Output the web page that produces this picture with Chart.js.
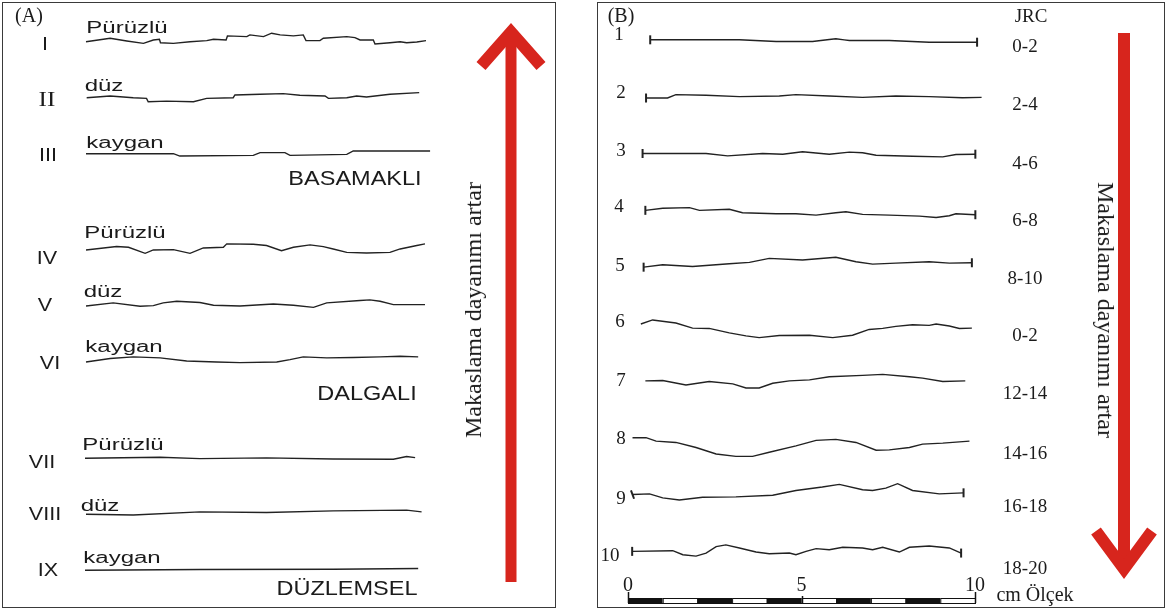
<!DOCTYPE html>
<html>
<head>
<meta charset="utf-8">
<script src="https://cdn.jsdelivr.net/npm/chart.js@4/dist/chart.umd.min.js"></script>
<style>
  html, body { margin: 0; padding: 0; background: #fff; }
  body { width: 1166px; height: 610px; position: relative; overflow: hidden; color: #1b1b1b; }
  .panel { position: absolute; border: 1.5px solid #3a3a3a; box-sizing: border-box; }
  #panelA { left: 2px; top: 2px; width: 554px; height: 606px; }
  #panelB { left: 597px; top: 2px; width: 568px; height: 606px; }
  canvas { position: absolute; }
  .t { position: absolute; white-space: nowrap; line-height: 1; }
  .sans { font-family: "Liberation Sans", Arial, sans-serif; }
  .serif { font-family: "Liberation Serif", "Times New Roman", serif; }
</style>
</head>
<body>
<div class="panel" id="panelA"></div>
<div class="panel" id="panelB"></div>
<canvas id="chartA" width="552" height="604" style="left:3px;top:3px"></canvas>
<canvas id="chartB" width="565" height="604" style="left:598px;top:3px"></canvas>
<script>
// ---------------------------------------------------------------------------
// Profiles: [x in cm along the joint, height in mm]
// ---------------------------------------------------------------------------

// (A) basamakli / dalgali / duzlemsel, each purüzlü / düz / kaygan
const profI    = [[0,0],[0.51,0.7],[0.71,1.0],[1.20,0.2],[1.69,-0.5],[1.98,0.5],[2.16,0.7],[2.19,-0.3],[2.57,-0.5],[3.06,0],[3.55,0.3],[3.75,0.7],[4.12,0.5],[4.16,1.7],[4.73,1.5],[4.82,2.0],[5.22,1.5],[5.46,2.5],[5.71,2.0],[6.10,1.7],[6.39,2.0],[6.47,0.3],[6.88,0.3],[6.98,1.0],[7.67,1.5],[7.91,1.2],[8.06,0.5],[8.45,0.5],[8.50,-0.7],[8.94,-0.3],[9.24,0],[9.43,-0.3],[9.73,-0.1],[10.0,0.3]];
const profII   = [[0.02,0],[0.71,0.5],[1.39,0],[1.78,-0.2],[1.83,-1.2],[2.37,-1.0],[3.16,-1.2],[3.55,-0.2],[4.33,0],[4.38,0.8],[5.12,1.0],[5.80,1.2],[6.29,0.7],[7.03,0.5],[7.13,-0.2],[7.67,0],[7.96,0.5],[8.25,0.2],[8.94,1.0],[9.80,1.5]];
const profIII  = [[0,0],[2.57,0],[2.76,-0.7],[4.92,-0.5],[5.12,0.3],[5.85,0.3],[6.0,-0.5],[7.67,-0.2],[7.86,0.8],[10.12,0.8]];
const profIV   = [[0,0],[0.90,1.0],[1.25,0.8],[1.74,-1.0],[1.98,0],[2.57,0.1],[3.06,-1.0],[3.45,0.6],[4.04,0.8],[4.14,1.8],[4.92,1.7],[5.31,1.3],[5.75,-0.2],[6.10,0.8],[6.59,1.5],[6.98,1.0],[7.27,0.3],[7.67,-0.7],[8.25,-0.9],[8.94,-0.7],[9.24,0.3],[9.73,1.3],[9.97,1.8]];
const profV    = [[0,0],[0.80,0.9],[1.59,-0.1],[1.98,0.1],[2.27,0.9],[2.67,1.4],[3.35,1.0],[3.75,0.2],[4.53,0],[5.51,0.6],[6.10,0.2],[6.69,-0.4],[7.08,0.9],[8.06,1.6],[8.35,1.8],[8.65,1.4],[9.04,0.4],[9.97,0.4]];
const profVI   = [[0,0],[0.71,1.0],[1.39,1.5],[2.18,1.2],[2.96,0.3],[3.84,0],[4.53,-0.2],[5.61,0],[6.0,0.7],[6.39,1.5],[7.08,1.2],[7.86,1.3],[8.65,1.5],[9.24,1.7],[9.77,1.5]];
const profVII  = [[-0.03,0],[2.18,0.3],[3.35,-0.1],[5.31,0.1],[7.27,-0.2],[9.04,-0.3],[9.43,0.5],[9.68,0.2]];
const profVIII = [[0,0],[1.39,-0.2],[3.35,0.7],[5.31,0.5],[7.27,1.0],[9.43,1.2],[9.87,0.7]];
const profIX   = [[-0.03,0],[3.35,0.2],[7.27,0.3],[9.77,0.5]];

// (B) Barton JRC standart profilleri 1..10
const prof1  = [[0.64,0],[3.21,0],[4.27,-0.5],[5.32,-0.5],[5.80,0.1],[5.99,0.3],[6.23,0],[6.38,-0.2],[7.53,-0.2],[8.68,-0.7],[10.06,-0.7]];
const prof2  = [[0.52,-0.4],[1.14,-0.4],[1.38,0.6],[2.25,0.4],[3.21,0],[4.36,0.2],[4.84,0.6],[5.80,0.2],[6.76,-0.2],[7.72,0.2],[8.68,0],[9.64,-0.3],[10.19,-0.2]];
const prof3  = [[0.42,0],[2.25,0],[2.87,-0.7],[3.88,0],[4.46,-0.2],[5.03,0.5],[5.80,-0.2],[6.38,0.4],[6.76,0.2],[7.15,-0.5],[8.20,-0.8],[9.07,-1.0],[9.45,-0.3],[10.01,-0.2]];
const prof4  = [[0.50,0],[1.00,0.6],[1.77,0.8],[2.06,0],[2.92,0.3],[3.30,-0.7],[4.27,-1.0],[4.84,-1.0],[5.42,-1.4],[5.99,-0.7],[6.28,-0.4],[6.76,-1.2],[7.53,-1.4],[8.40,-1.7],[8.88,-2.1],[9.26,-1.6],[9.45,-1.0],[10.01,-1.3]];
const prof5  = [[0.45,0],[1.00,0.7],[1.86,0.2],[2.92,1.0],[3.50,1.4],[4.07,2.6],[5.03,2.1],[5.99,2.9],[6.57,1.6],[7.05,0.9],[7.72,1.2],[8.68,1.6],[9.26,1.2],[9.91,1.3]];
const prof6  = [[0.37,0],[0.71,1.2],[1.38,0.3],[1.86,-1.2],[2.34,-1.3],[2.92,-2.6],[3.40,-3.5],[3.78,-4.0],[4.36,-3.4],[5.23,-3.3],[5.90,-4.0],[6.47,-3.3],[6.95,-1.6],[7.34,-1.3],[7.72,-0.7],[8.20,-0.2],[8.68,-0.4],[8.88,0],[9.26,-0.6],[9.55,-1.3],[9.91,-1.2]];
const prof7  = [[0.50,0],[1.00,0.1],[1.67,-1.2],[2.34,-0.2],[3.02,-0.9],[3.40,-2.1],[3.78,-2.1],[4.17,-0.7],[4.65,0],[5.23,0.3],[5.80,1.2],[6.76,1.6],[7.34,1.9],[8.11,1.2],[8.49,0.8],[9.07,-0.2],[9.72,0]];
const prof8  = [[0.13,0],[0.52,0],[0.81,-1.0],[1.38,-1.4],[1.96,-2.9],[2.54,-4.8],[3.11,-5.5],[3.59,-5.5],[4.07,-4.3],[4.84,-2.4],[5.42,-0.8],[5.99,-0.5],[6.57,-1.4],[7.15,-3.7],[7.53,-3.6],[8.11,-2.9],[8.49,-1.9],[9.07,-1.6],[9.84,-1.0]];
const prof9  = [[0.13,0],[0.62,0.2],[1.00,-1.0],[1.48,-1.6],[2.15,-0.8],[3.11,-0.7],[4.17,-0.2],[4.84,1.2],[5.60,2.2],[6.09,3.0],[6.76,1.4],[7.05,1.2],[7.43,1.9],[7.77,3.2],[8.20,1.2],[8.97,0.2],[9.67,0.5]];
const prof10 = [[0.12,0],[1.29,0.2],[1.58,-1.0],[1.96,-1.4],[2.25,-0.5],[2.54,1.4],[2.82,1.9],[3.21,1.0],[3.69,-0.2],[4.07,-0.7],[4.65,-0.5],[4.84,-1.0],[5.13,0],[5.42,0.8],[5.80,0.5],[6.19,1.2],[6.76,1.0],[7.05,0.5],[7.34,1.2],[7.82,-0.2],[8.11,1.2],[8.68,1.6],[9.26,1.0],[9.60,-0.5]];

// Etiketler
const romanA   = ['I', 'II', 'III', 'IV', 'V', 'VI', 'VII', 'VIII', 'IX'];
const surfaceA = ['Pürüzlü', 'düz', 'kaygan'];
const groupsA  = ['BASAMAKLI', 'DALGALI', 'DÜZLEMSEL'];
const numbersB = ['1', '2', '3', '4', '5', '6', '7', '8', '9', '10'];
const jrcB     = ['0-2', '2-4', '4-6', '6-8', '8-10', '0-2', '12-14', '14-16', '16-18', '18-20'];
const capsB    = [true, true, true, true, true, false, false, false, true, true];
const scaleCm  = [0, 1, 2, 3, 4, 5, 6, 7, 8, 9, 10];
const scaleTicks = [0, 5, 10];

// ---------------------------------------------------------------------------
// Layout (mm units of the y axes)
// ---------------------------------------------------------------------------
const ROW_A = 16.47, GROUP_A = 61.26, TOP_A = 11.38, SPAN_A = 177.65;
const ROW_B = 16.74, TOP_B = 8.93, SPAN_B = 174.06;
const INK = '#222222';
const RED = '#d7251d';

function profileDataset(points, offset, caps, capRot) {
    var n = points.length;
    return {
        data: points.map(function (p) { return { x: p[0], y: p[1] - offset }; }),
        borderColor: INK,
        borderWidth: 1.4,
        tension: 0,
        fill: false,
        clip: false,
        pointStyle: 'line',
        rotation: function (c) { return (c.dataIndex === 0 && capRot) ? capRot : 90; },
        pointRadius: function (c) {
            return caps && (c.dataIndex === 0 || c.dataIndex === n - 1) ? 4.5 : 0;
        },
        pointBorderColor: INK,
        pointBackgroundColor: INK,
        pointBorderWidth: 2
    };
}

// kalin kirmizi ok
var redArrow = {
    id: 'redArrow',
    afterDraw: function (chart, args, o) {
        var ctx = chart.ctx;
        ctx.save();
        ctx.strokeStyle = RED;
        ctx.lineCap = 'butt';
        ctx.lineWidth = o.shaft;
        ctx.beginPath();
        ctx.moveTo(o.x, o.tail);
        ctx.lineTo(o.x, o.vertex);
        ctx.stroke();
        ctx.lineWidth = o.wing;
        ctx.lineJoin = 'miter';
        ctx.miterLimit = 10;
        ctx.beginPath();
        ctx.moveTo(o.x - o.spread, o.wingY);
        ctx.lineTo(o.x, o.vertex);
        ctx.lineTo(o.x + o.spread, o.wingY);
        ctx.stroke();
        ctx.restore();
    }
};

// olcek cubugu (0-10 cm), x ekseninden
var scaleBar = {
    id: 'scaleBar',
    afterDraw: function (chart, args, o) {
        if (!o.show) return;
        var ctx = chart.ctx, xs = chart.scales.x;
        ctx.save();
        ctx.lineWidth = 1;
        ctx.strokeStyle = '#111';
        for (var i = 0; i < scaleCm.length - 1; i++) {
            var a = xs.getPixelForValue(scaleCm[i]);
            var b = xs.getPixelForValue(scaleCm[i + 1]);
            ctx.fillStyle = i % 2 === 0 ? '#111' : '#fff';
            ctx.fillRect(a, o.y, b - a, o.h);
            ctx.strokeRect(a + 0.5, o.y + 0.5, b - a, o.h);
        }
        ctx.lineWidth = 1.5;
        scaleTicks.forEach(function (v) {
            var px = Math.round(xs.getPixelForValue(v)) + 0.5;
            ctx.beginPath();
            ctx.moveTo(px, o.y - (v === 5 ? 2 : 6));
            ctx.lineTo(px, o.y + o.h);
            ctx.stroke();
        });
        ctx.restore();
    }
};

function makeChart(id, datasets, xMin, xMax, yMin, yMax, padding, arrow, bar) {
    return new Chart(document.getElementById(id), {
        type: 'line',
        data: { datasets: datasets },
        options: {
            responsive: false,
            animation: false,
            events: [],
            layout: { padding: padding },
            scales: {
                x: { type: 'linear', display: false, min: xMin, max: xMax },
                y: { type: 'linear', display: false, min: yMin, max: yMax }
            },
            plugins: {
                legend: { display: false },
                tooltip: { enabled: false },
                redArrow: arrow,
                scaleBar: bar
            }
        },
        plugins: [redArrow, scaleBar]
    });
}

// ---------------------------------------------------------------------------
// Panel A
// ---------------------------------------------------------------------------
var profilesA = [profI, profII, profIII, profIV, profV, profVI, profVII, profVIII, profIX];
var dsA = profilesA.map(function (p, i) {
    var g = Math.floor(i / 3), r = i % 3;
    return profileDataset(p, g * GROUP_A + r * ROW_A, false);
});
makeChart('chartA', dsA, 0, 10, TOP_A - SPAN_A, TOP_A,
    { left: 83, right: 129, top: 0, bottom: 0 },
    { x: 508, tail: 579, vertex: 29, wingY: 63, spread: 30, shaft: 11, wing: 12 },
    { show: false });

// ---------------------------------------------------------------------------
// Panel B
// ---------------------------------------------------------------------------
var profilesB = [prof1, prof2, prof3, prof4, prof5, prof6, prof7, prof8, prof9, prof10];
var dsB = profilesB.map(function (p, i) {
    return profileDataset(p, i * ROW_B, capsB[i], i === 8 ? 70 : 0);
});
var chartB = makeChart('chartB', dsB, 0, 10, TOP_B - SPAN_B, TOP_B,
    { left: 30, right: 188, top: 0, bottom: 0 },
    { x: 526, tail: 30, vertex: 566, wingY: 528, spread: 28, shaft: 12, wing: 12 },
    { show: true, y: 595, h: 5 });

// ---------------------------------------------------------------------------
// Texts
// ---------------------------------------------------------------------------
function addText(txt, cx, cy, cls, size, sx, rot) {
    var d = document.createElement('div');
    d.className = 't ' + cls;
    d.textContent = txt;
    d.style.left = cx + 'px';
    d.style.top = cy + 'px';
    d.style.fontSize = size + 'px';
    var tr = 'translate(-50%,-50%)';
    if (rot) tr += ' rotate(' + rot + 'deg)';
    if (sx && sx !== 1) tr += ' scaleX(' + sx + ')';
    d.style.transform = tr;
    document.body.appendChild(d);
}

addText('(A)', 29, 15, 'serif', 20);
addText('(B)', 621, 15, 'serif', 20);

var romanPos = [[45, 44], [47, 99], [48, 155], [47, 258], [45, 305], [50, 363], [42, 462], [45, 514], [48, 570]];
var surfPos = [[127, 28], [104, 86], [125, 143], [125, 233], [103, 292], [124, 347], [123, 445], [100, 506], [122, 558]];
romanA.forEach(function (r, i) {
    addText(r, romanPos[i][0], romanPos[i][1], i === 1 ? 'serif' : 'sans', i === 1 ? 21 : 18, i === 1 ? 1.2 : 1.2);
    addText(surfaceA[i % 3], surfPos[i][0], surfPos[i][1], 'sans', 16, 1.5);
});
var groupPos = [[355, 177], [367, 392], [347, 587]];
groupsA.forEach(function (g, i) {
    addText(g, groupPos[i][0], groupPos[i][1], 'sans', 21, 1.12);
});
addText('Makaslama dayanımı artar', 473, 310, 'serif', 24, 1, -90);
addText('Makaslama dayanımı artar', 1106, 310, 'serif', 24, 1, 90);

var numPos = [[619, 33], [621, 91], [621, 149], [619, 205], [620, 264], [620, 320], [621, 379], [621, 437], [621, 497], [610, 554]];
numbersB.forEach(function (n, i) {
    addText(n, numPos[i][0], numPos[i][1], 'serif', 19);
});
addText('JRC', 1031, 15, 'serif', 19);
var jrcY = [45, 103, 162, 219, 277, 334, 392, 452, 505, 567];
jrcB.forEach(function (j, i) {
    addText(j, 1025, jrcY[i], 'serif', 19);
});

// olcek etiketleri x ekseninden
var xsB = chartB.scales.x;
scaleTicks.forEach(function (v) {
    addText(String(v), 598 + xsB.getPixelForValue(v), 584, 'serif', 20);
});
addText('cm Ölçek', 1035, 594, 'serif', 20);
</script>
</body>
</html>
